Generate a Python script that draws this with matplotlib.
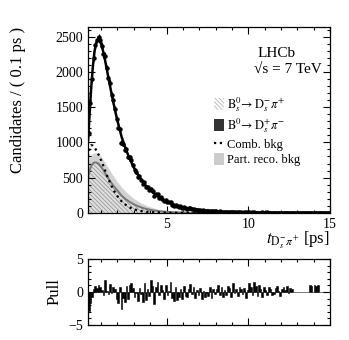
import matplotlib
matplotlib.use("Agg")
import matplotlib.pyplot as plt
import numpy as np
from matplotlib.patches import Patch
from matplotlib.lines import Line2D
from matplotlib.ticker import MultipleLocator


# <----------------[DATA]----------------> #

# decay-time bins of 0.1 ps starting at 0.2 ps
bin_lo = 0.2
bin_w = 0.1
counts = [
  1130, 1560, 1900, 2200, 2380, 2460, 2490, 2450, 2370, 2250,
  2230, 2050, 1910, 1850, 1675, 1600, 1480, 1330, 1210, 1190,
  998, 983, 898, 908, 790, 797, 753, 684, 603, 577,
  510, 519, 466, 409, 437, 360, 366, 323, 344, 306,
  242, 264, 261, 214, 222, 196, 164, 180, 151, 148,
  153, 117, 104, 118, 91, 89, 95, 75, 86, 68,
  61, 66, 68, 53, 56, 42, 47, 39, 43, 29,
  35, 28, 29, 25, 30, 20, 24, 20, 24, 16,
  20, 13, 16, 12, 16, 14, 9, 14, 9, 11,
  6, 9, 6, 9, 4, 7, 9, 7, 6, 3,
  6, 5, 3, 4, 1, 4, 5, 4, 2, 5,
  4, 1, 3, 2, 0, 2, 2, 1, 2, 2,
  1, 2, 1, 1, 1, 0, 0, 0, 0, 0,
  0, 0, 0, 0, 0, 1, 1, 0, 1, 1,
  1, 0, 0, 0, 0, 0, 0, 0,
]

pulls = [
  -2.8, -1.6, -0.7, 0.4, 0.9, 0.6, 1.1, 0.7, 0.3, -0.4,
  1.8, 0.2, -0.3, 1.2, -0.2, 0.8, 0.5, -1.0, -1.6, 0.7,
  -2.6, -0.9, -1.5, 0.9, -1.1, 1.1, 1.4, 0.6, -0.8, -0.2,
  -1.4, 0.6, -0.3, -1.5, 1.3, -1.2, 0.4, -0.6, 1.8, 0.9,
  -1.8, 0.7, 1.6, -0.5, 1.1, 0.3, -1.1, 1.0, -0.4, 0.2,
  1.5, -0.9, -1.3, 0.8, -1.2, -0.7, 0.5, -1.0, 0.9, -0.6,
  -0.8, 0.4, 1.2, -0.3, 0.7, -0.9, 0.3, -0.5, 0.6, -1.1,
  0.2, -0.7, -0.2, -0.6, 0.8, -0.9, 0.5, -0.3, 0.4, 1.0,
  -0.5, 0.7, -0.8, 0.3, -0.4, 0.9, 0.6, -0.7, 1.3, -0.2,
  0.5, -0.6, 0.8, 0.4, -0.3, 0.6, -0.9, 0.3, 1.4, 0.8,
  -0.4, 1.6, 0.9, -0.6, 1.1, 0.4, -0.8, 0.7, 0.3, -0.5,
  0.8, 0.5, -0.4, -0.3, 0.6, 0.9, 0.2, -0.6, 0.4, 0.7,
  0.3, 0.9, -0.2, 0.6, 0.4, 0.0, 0.0, 0.0, 0.0, 0.0,
  0.0, 0.0, 0.0, 0.0, 0.0, 1.0, 0.9, 0.0, 1.0, 0.9,
  1.0, 0.0, 0.0, 0.0, 0.0, 0.0, 0.0, 0.0,
]

# fit curves sampled along t
fit_t = [
  0.2, 0.3, 0.4, 0.5, 0.6, 0.7, 0.8, 0.9, 1.0, 1.1,
  1.2, 1.3, 1.4, 1.5, 1.6, 1.7, 1.8, 1.9, 2.0,
  2.25, 2.5, 2.75, 3.0, 3.25, 3.5, 3.75, 4.0, 4.25, 4.5, 4.75, 5.0,
  5.5, 6.0, 6.5, 7.0, 7.5, 8.0, 8.5, 9.0, 9.5, 10.0,
  10.5, 11.0, 11.5, 12.0, 12.5, 13.0, 13.5, 14.0, 14.5, 15.0,
]
fit_total = [
  1000, 1400, 1780, 2080, 2290, 2410, 2460, 2450, 2400, 2320,
  2220, 2100, 1980, 1860, 1740, 1625, 1515, 1410, 1310,
  1084, 912, 767, 645, 543, 457, 384, 323, 272, 229, 192, 162,
  114, 81, 57, 40, 29, 20, 14, 10, 7.1, 5.0,
  3.6, 2.5, 1.8, 1.3, 0.9, 0.6, 0.45, 0.3, 0.22, 0.15,
]
fit_comb = [
  800, 920, 960, 955, 930, 890, 850, 800, 750, 695,
  630, 570, 510, 455, 400, 352, 310, 272, 237,
  165, 115, 78, 52, 35, 24, 16, 11, 7.5, 5, 3.5, 2.5,
  1.2, 0.6, 0.3, 0.15, 0.1, 0.1, 0.1, 0.1, 0.1, 0.1,
  0.1, 0.1, 0.1, 0.1, 0.1, 0.1, 0.1, 0.1, 0.1, 0.1,
]
fit_bsdspi = [
  500, 600, 665, 700, 715, 715, 705, 685, 655, 620,
  582, 544, 506, 470, 435, 402, 372, 344, 318,
  245, 195, 155, 122, 95, 73, 56, 43, 33, 25, 19, 14,
  8, 5, 3, 2, 1.3, 0.8, 0.5, 0.3, 0.2, 0.1,
  0.1, 0.1, 0.1, 0.1, 0.1, 0.1, 0.1, 0.1, 0.1, 0.1,
]
fit_partreco = [  # stacked on top of Bs -> Ds pi
  700, 770, 810, 832, 843, 845, 840, 825, 800, 770,
  735, 698, 658, 620, 582, 545, 509, 475, 442,
  368, 305, 250, 203, 163, 130, 103, 80, 62, 47, 35, 26,
  15, 9, 5, 3, 2, 1.2, 0.8, 0.5, 0.3, 0.2,
  0.1, 0.1, 0.1, 0.1, 0.1, 0.1, 0.1, 0.1, 0.1, 0.1,
]


# <----------------[STYLE]----------------> #

plt.rcParams['font.family'] = 'serif'
plt.rcParams['font.serif'] = ['Liberation Serif', 'DejaVu Serif']
plt.rcParams['mathtext.fontset'] = 'stix'
plt.rcParams['hatch.linewidth'] = 0.5

HATCH = '\\' * 8


def rootTicks(ax):
  ax.tick_params(which='both', direction='in', top=True, right=True, labelsize=10)
  ax.tick_params(which='major', length=5, width=0.8)
  ax.tick_params(which='minor', length=2.5, width=0.8)
  for s in ax.spines.values():
    s.set_linewidth(0.9)


# <----------------[PLOT]----------------> #

fig = plt.figure(figsize=(3.49, 3.40), dpi=100)
ax = fig.add_axes([0.252, 0.374, 0.694, 0.547])
axp = fig.add_axes([0.252, 0.044, 0.694, 0.194])

t = bin_lo + bin_w * (np.arange(len(counts)) + 0.5)
n = np.array(counts, dtype=float)

ax.fill_between(fit_t, 0, fit_bsdspi, facecolor='#dedede', edgecolor='#8e8e8e',
                hatch=HATCH, linewidth=0)
ax.fill_between(fit_t, fit_bsdspi, fit_partreco, facecolor='#d2d2d2', linewidth=0)
ax.plot(fit_t, fit_bsdspi, color='#777777', lw=1.4)
ax.plot(fit_t, fit_comb, color='black', lw=1.6, linestyle=(0, (1, 1.6)))

ax.errorbar(t, n, yerr=np.sqrt(n), xerr=bin_w / 2, fmt='o', ms=2.2,
            color='black', elinewidth=0.8, capsize=0)
ax.plot(fit_t, fit_total, color='black', lw=1.8)

ax.set_xlim(0.2, 15)
ax.set_ylim(0, 2640)
ax.xaxis.set_major_locator(MultipleLocator(5))
ax.xaxis.set_minor_locator(MultipleLocator(1))
ax.yaxis.set_major_locator(MultipleLocator(500))
ax.yaxis.set_minor_locator(MultipleLocator(100))
rootTicks(ax)

ax.set_ylabel('Candidates / ( 0.1 ps )', fontsize=12, loc='top')
ax.yaxis.set_label_coords(-0.255, 1.0)
fig.text(0.946, 0.295, r'$t_{\mathrm{D}_s^{-}\pi^{+}}$ [ps]', fontsize=12,
         ha='right', va='center')

ax.text(0.70, 0.84, 'LHCb', transform=ax.transAxes, fontsize=11)
ax.text(0.685, 0.755, '√s = 7 TeV', transform=ax.transAxes, fontsize=11)

handles = [
  Patch(facecolor='white', edgecolor='#aaaaaa', hatch=HATCH, linewidth=0),
  Patch(facecolor='#333333', linewidth=0),
  Line2D([], [], color='black', lw=1.6, linestyle=(0, (1, 1.6))),
  Patch(facecolor='#cccccc', linewidth=0),
]
labels = [
  r'$\mathrm{B}_s^0\!\rightarrow \mathrm{D}_s^{-}\pi^{+}$',
  r'$\mathrm{B}^0\!\rightarrow \mathrm{D}_s^{+}\pi^{-}$',
  'Comb. bkg',
  'Part. reco. bkg',
]
ax.legend(handles, labels, loc='upper left', bbox_to_anchor=(0.50, 0.66),
          frameon=False, fontsize=9, handlelength=0.8, handleheight=1.1,
          handletextpad=0.25, labelspacing=0.2, borderaxespad=0)

# pull panel
axp.bar(t, pulls, width=bin_w, color='black', edgecolor='black', linewidth=0.4)
axp.set_xlim(0.2, 15)
axp.set_ylim(-5, 5)
axp.xaxis.set_major_locator(MultipleLocator(5))
axp.xaxis.set_minor_locator(MultipleLocator(1))
axp.yaxis.set_major_locator(MultipleLocator(5))
axp.yaxis.set_minor_locator(MultipleLocator(1))
rootTicks(axp)
axp.tick_params(axis='x', labelbottom=False)
axp.set_ylabel('Pull', fontsize=12)
axp.yaxis.set_label_coords(-0.107, 0.5)

fig.savefig('out.png', dpi=100)
